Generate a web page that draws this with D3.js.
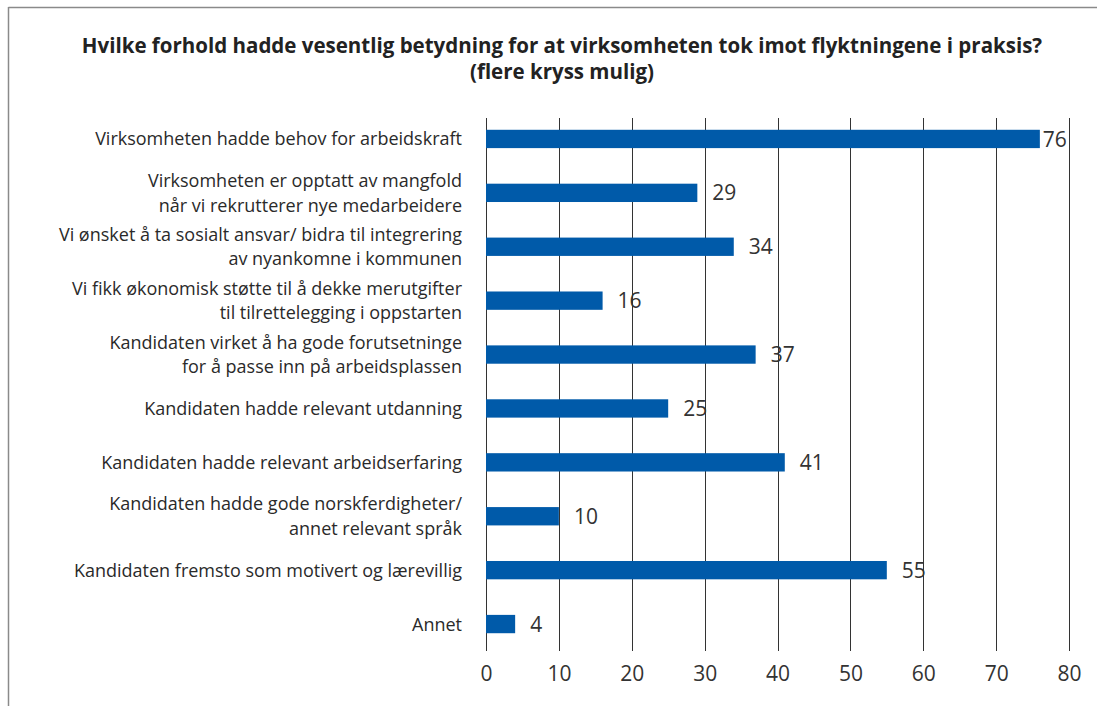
<!DOCTYPE html>
<html>
<head>
<meta charset="utf-8">
<script src="https://cdn.jsdelivr.net/npm/d3@7"></script>
<style>
  html, body { margin: 0; padding: 0; background: #fff; }
  svg { display: block; font-family: "Open Sans", "Noto Sans", sans-serif; }
</style>
</head>
<body>
<svg id="chart" width="1097" height="706"></svg>
<script>
// Answer categories (lines split where the label wraps)
const categories = [
  ["Virksomheten hadde behov for arbeidskraft"],
  ["Virksomheten er opptatt av mangfold", "når vi rekrutterer nye medarbeidere"],
  ["Vi ønsket å ta sosialt ansvar/ bidra til integrering", "av nyankomne i kommunen"],
  ["Vi fikk økonomisk støtte til å dekke merutgifter", "til tilrettelegging i oppstarten"],
  ["Kandidaten virket å ha gode forutsetninge", "for å passe inn på arbeidsplassen"],
  ["Kandidaten hadde relevant utdanning"],
  ["Kandidaten hadde relevant arbeidserfaring"],
  ["Kandidaten hadde gode norskferdigheter/", "annet relevant språk"],
  ["Kandidaten fremsto som motivert og lærevillig"],
  ["Annet"]
];
const values = [76, 29, 34, 16, 37, 25, 41, 10, 55, 4];
const xTicks = [0, 10, 20, 30, 40, 50, 60, 70, 80];
const titleLines = [
  "Hvilke forhold hadde vesentlig betydning for at virksomheten tok imot flyktningene i praksis?",
  "(flere kryss mulig)"
];

const svg = d3.select("#chart");
const W = 1097, H = 706;
const plot = { left: 486, right: 1069, top: 112, bottom: 651 };

// Frame: top and left rules
svg.append("line").attr("x1", 8.5).attr("x2", W).attr("y1", 7.5).attr("y2", 7.5)
  .attr("stroke", "#8a8a8a").attr("stroke-width", 1.5);
svg.append("line").attr("x1", 8.5).attr("x2", 8.5).attr("y1", 7).attr("y2", H)
  .attr("stroke", "#8a8a8a").attr("stroke-width", 1.5);

// Title
svg.append("g").selectAll("text").data(titleLines).join("text")
  .attr("x", 562).attr("y", (d, i) => 53 + i * 26)
  .attr("text-anchor", "middle")
  .attr("font-size", 20.5).attr("font-weight", 700).attr("fill", "#222")
  .text(d => d);

const x = d3.scaleLinear().domain([0, 80]).range([plot.left, plot.right]);
const y = d3.scaleBand().domain(d3.range(categories.length))
  .range([plot.top, plot.bottom]).paddingInner(0.66).paddingOuter(0.33);

// Vertical grid lines with tick marks reaching below the plot
const xAxis = d3.axisBottom(x).tickValues(xTicks).tickSize(plot.bottom - 118).tickPadding(15);
const gx = svg.append("g").attr("transform", `translate(0,118)`).call(xAxis);
gx.select(".domain").remove();
gx.selectAll(".tick line").attr("stroke", "#333").attr("stroke-width", 1)
  .attr("shape-rendering", "crispEdges");
gx.selectAll(".tick text").attr("font-size", 21).attr("fill", "#333")
  .attr("font-family", "'Open Sans', sans-serif");

// Bars
svg.append("g").selectAll("rect").data(values).join("rect")
  .attr("x", x(0)).attr("y", (d, i) => y(i))
  .attr("width", d => x(d) - x(0)).attr("height", y.bandwidth())
  .attr("fill", "#005aa9");

// Value labels
svg.append("g").selectAll("text").data(values).join("text")
  .attr("x", d => x(d) + (x(d) + 40 > plot.right ? 3 : 15))
  .attr("y", (d, i) => y(i) + y.bandwidth() / 2)
  .attr("dy", "0.36em")
  .attr("font-size", 21).attr("fill", "#333")
  .text(d => d);

// Category labels, one text element per line
const lab = svg.append("g");
categories.forEach((lines, i) => {
  const cy = y(i) + y.bandwidth() / 2;
  const lh = 24.5;
  lab.selectAll(null).data(lines).join("text")
    .attr("x", 462).attr("text-anchor", "end")
    .attr("y", (d, j) => cy + (j - (lines.length - 1) / 2) * lh)
    .attr("dy", "0.36em")
    .attr("font-size", 18).attr("fill", "#2a2a2a")
    .text(d => d);
});
</script>
</body>
</html>
